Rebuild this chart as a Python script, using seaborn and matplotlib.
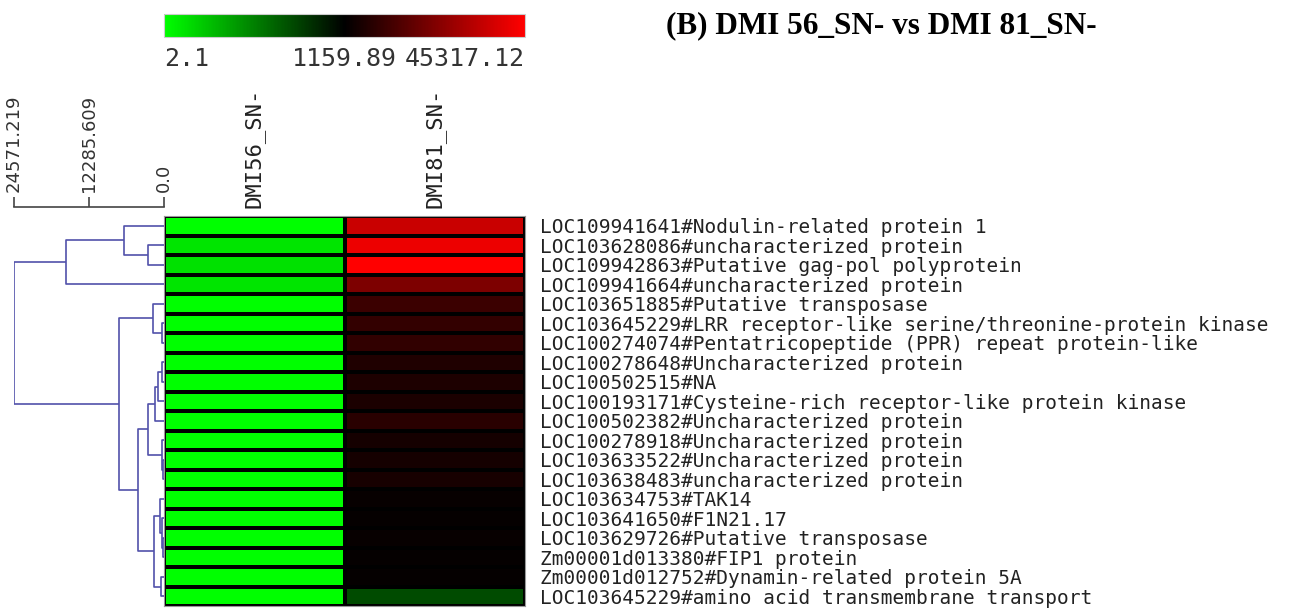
# %%
# Setup
import numpy as np
import pandas as pd
import seaborn as sns
import matplotlib
matplotlib.use("Agg")
import matplotlib.pyplot as plt
from matplotlib.colors import LinearSegmentedColormap, TwoSlopeNorm

genes = [
    "LOC109941641#Nodulin-related protein 1",
    "LOC103628086#uncharacterized protein",
    "LOC109942863#Putative gag-pol polyprotein",
    "LOC109941664#uncharacterized protein",
    "LOC103651885#Putative transposase",
    "LOC103645229#LRR receptor-like serine/threonine-protein kinase",
    "LOC100274074#Pentatricopeptide (PPR) repeat protein-like",
    "LOC100278648#Uncharacterized protein",
    "LOC100502515#NA",
    "LOC100193171#Cysteine-rich receptor-like protein kinase",
    "LOC100502382#Uncharacterized protein",
    "LOC100278918#Uncharacterized protein",
    "LOC103633522#Uncharacterized protein",
    "LOC103638483#uncharacterized protein",
    "LOC103634753#TAK14",
    "LOC103641650#F1N21.17",
    "LOC103629726#Putative transposase",
    "Zm00001d013380#FIP1 protein",
    "Zm00001d012752#Dynamin-related protein 5A",
    "LOC103645229#amino acid transmembrane transport",
]
samples = ["DMI56_SN-", "DMI81_SN-"]

# expression values
dmi56 = [4.2, 128.5, 142.3, 121.7, 3.1, 2.6, 3.4, 2.1, 2.9, 3.8,
         2.4, 2.2, 3.0, 2.7, 2.5, 2.3, 2.8, 2.1, 2.6, 5.4]
dmi81 = [35800, 41900, 45317.12, 22800, 11500, 9800, 9600, 6400, 6300, 5900,
         8100, 4950, 4950, 5200, 2200, 2150, 2300, 2100, 2050, 819]

scale_min, scale_mid, scale_max = 2.1, 1159.89, 45317.12

# row dendrogram: merge i joins node merge_left[i] and merge_right[i]
# (0-19 = rows, 20+ = earlier merges) at merge_height[i]
merge_left = [1, 0, 21, 5, 4, 7, 25, 26, 12, 11, 27, 16, 15, 14, 18, 33, 30, 24, 22]
merge_right = [2, 20, 3, 6, 23, 8, 9, 10, 13, 28, 29, 17, 31, 32, 19, 34, 35, 36, 37]
merge_height = [2688, 6481, 16045, 250, 1863, 300, 1039, 1534, 150, 330,
                2688, 120, 250, 709, 544, 1698, 4337, 7305, 24571.219]
dendro_ticks = [24571.219, 12285.609, 0.0]
dendro_ticklabels = ["24571.219", "12285.609", "0.0"]

df = pd.DataFrame({samples[0]: dmi56, samples[1]: dmi81}, index=genes)

W, H = 1301, 608
fig = plt.figure(figsize=(W / 100, H / 100), dpi=100)

def box(l, t, r, b):
    return [l / W, 1 - b / H, (r - l) / W, (b - t) / H]

ax = fig.add_axes(box(164, 216, 525, 606))
cax = fig.add_axes(box(164, 14, 525, 37))
dax = fig.add_axes(box(14, 207, 164, 606))

# %%
# Heatmap
cmap = LinearSegmentedColormap.from_list("gbr", ["#00ff00", "#000000", "#ff0000"])
norm = TwoSlopeNorm(vmin=scale_min, vcenter=scale_mid, vmax=scale_max)

sns.heatmap(df, ax=ax, cmap=cmap, norm=norm, linewidths=1.6, linecolor="black",
            cbar_ax=cax, cbar_kws={"orientation": "horizontal"})

ax.yaxis.tick_right()
ax.set_yticks(np.arange(len(genes)) + 0.5)
ax.set_yticklabels(genes, rotation=0, fontsize=14, family="DejaVu Sans Mono", color="#222222")
ax.tick_params(axis="y", length=0, pad=11)
ax.xaxis.tick_top()
ax.set_xticks(np.arange(len(samples)) + 0.5)
ax.set_xticklabels(samples, rotation=90, fontsize=16, family="DejaVu Sans Mono", color="#222222")
ax.tick_params(axis="x", length=0, pad=6)
ax.set_xlabel("")
ax.set_ylabel("")
for s in ax.spines.values():
    s.set_visible(True)
    s.set_color("#999999")
    s.set_linewidth(0.8)

# colour bar
cbar = ax.collections[0].colorbar
cbar.set_ticks([scale_min, scale_mid, scale_max])
cbar.set_ticklabels(["2.1", "1159.89", "45317.12"])
cax.tick_params(length=0, pad=7, labelsize=18, labelcolor="#333333")
for lab in cax.get_xticklabels():
    lab.set_family("DejaVu Sans Mono")
labs = cax.get_xticklabels()
labs[0].set_ha("left")
labs[2].set_ha("right")
cbar.outline.set_edgecolor("#cccccc")
cbar.outline.set_linewidth(0.8)

# %%
# Dendrogram
n = len(genes)
node_y = {i: i + 0.5 for i in range(n)}
node_h = {i: 0.0 for i in range(n)}
for k in range(len(merge_height)):
    a, b, h = merge_left[k], merge_right[k], merge_height[k]
    dax.plot([node_h[a], h, h, node_h[b]], [node_y[a], node_y[a], node_y[b], node_y[b]],
             color="#5252aa", lw=1.2, solid_capstyle="butt")
    node_y[n + k] = (node_y[a] + node_y[b]) / 2
    node_h[n + k] = h

dax.set_xlim(dendro_ticks[0], 0)
dax.set_ylim(n, -9 / 19.5)
dax.xaxis.tick_top()
dax.set_xticks(dendro_ticks)
dax.set_xticklabels(dendro_ticklabels, rotation=90, fontsize=13, color="#333333")
dax.tick_params(axis="x", direction="out", length=7, width=1.2, color="#444444", pad=4)
dax.set_yticks([])
for side in ["left", "right", "bottom"]:
    dax.spines[side].set_visible(False)
dax.spines["top"].set_color("#444444")
dax.spines["top"].set_linewidth(1.2)
dax.patch.set_alpha(0)

# %%
# Title
fig.text(881 / W, 1 - 26 / H, "(B) DMI 56_SN- vs DMI 81_SN-", ha="center", va="center",
         fontsize=22.5, fontweight="bold", family="Liberation Serif")

fig.savefig("out.png", dpi=100)
